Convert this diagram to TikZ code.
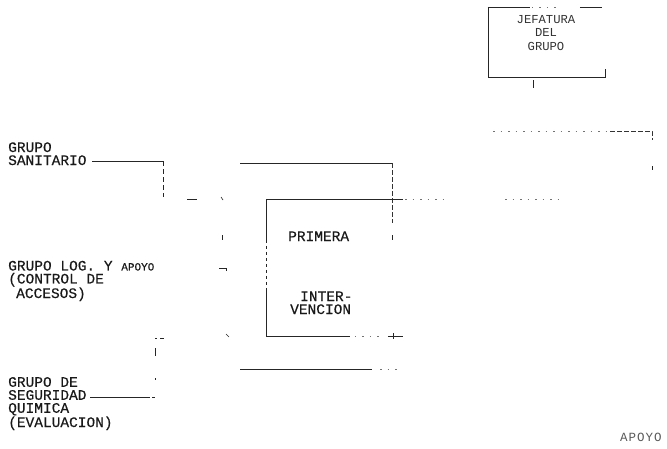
\documentclass[tikz,border=0pt]{standalone}
\usepackage{fontspec}
\setmonofont[FakeBold=0.4]{Liberation Mono}
\newfontfamily\typelight{Liberation Mono}
\usetikzlibrary{calc}
\begin{document}
\begin{tikzpicture}[x=1pt,y=-1pt,
  lbl/.style={font=\ttfamily\fontsize{14.5}{13}\selectfont, text=black!90, inner sep=0pt, align=left, anchor=base west},
  jlbl/.style={font=\typelight\fontsize{12.2}{13.5}\selectfont, text=black!80, inner sep=0pt, align=center, anchor=base},
  ln/.style={line width=0.6pt, draw=black!85},
  dsh/.style={line width=0.6pt, draw=black!80, dash pattern=on 5pt off 2pt},
  vfnt/.style={line width=0.5pt, draw=black!55, dash pattern=on 1.5pt off 6pt},
]
\useasboundingbox (0,0) rectangle (667,448);
% ---------- boxes (invisible nodes, outlines drawn as scanned)
\node[minimum width=117pt, minimum height=70pt, inner sep=0pt] (jef) at (546.5,42) {};
\node[minimum width=137pt, minimum height=137pt, inner sep=0pt] (prim) at (334.5,267.5) {};
% ---------- texts (base anchor = baseline of last line)
\node[jlbl] (jeft) at (546,50) {JEFATURA\\DEL\\GRUPO};
\node[lbl] (san) at (8,165) {GRUPO\\SANITARIO};
\node[lbl] (log) at (8,298) {GRUPO LOG. Y {\fontsize{11}{13}\selectfont APOYO}\\(CONTROL DE\\\hspace*{8pt}ACCESOS)};
\node[lbl] (seg) at (8,427) {GRUPO DE\\SEGURIDAD\\QUIMICA\\(EVALUACION)};
\node[lbl] (pt1) at (288,241) {PRIMERA};
\node[lbl] (pt2) at (290,314) {\hspace*{10pt}INTER-\\VENCION};
\node[lbl, font=\typelight\fontsize{12.5}{13}\selectfont, text=black!65] (apo) at (620,441) {A\kern1pt P\kern1pt O\kern1pt Y\kern1pt O};
% ---------- named coordinates
\coordinate (jefdrop) at (533,88);
\coordinate (sanend) at (92,161);
\coordinate (sanc) at (163,161);
\coordinate (segend) at (90,397);
\coordinate (segc) at (155,397);
\coordinate (otl) at (240,163);
\coordinate (otr) at (392,163);
\coordinate (obl) at (240,369);
\coordinate (obr) at (400,369);
\coordinate (trl) at (493,131);
\coordinate (trr) at (652,131);
% ---------- Jefatura outline
\draw[ln] (jef.north west) -- ++(42,0);
\draw[vfnt] ($(jef.north west)+(44,0)$) -- ++(30,0);
\draw[ln] ($(jef.north west)+(92,0)$) -- ++(22,0);
\draw[ln] (jef.north west) -- (jef.south west) -- (jef.south east) -- ++(0,-8);
\draw[ln] (jef.south -| jefdrop) ++(0,3) -- (jefdrop);
% ---------- top right connector
\draw[vfnt] (trl) -- (610,131);
\draw[dsh] (610,131) -- (trr) -- ++(0,9);
\draw[ln] ($(trr)+(0,35)$) -- ++(0,4);
\draw[vfnt] (prim.north east) ++(2,0) -- ++(42,0);
\draw[vfnt] (505,199) -- (560,199);
% ---------- outer frame
\draw[ln] (otl) -- (otr);
\draw[dsh] (otr) -- (392,223);
\draw[ln] (392,235) -- (392,240);
\draw[ln] (obl) -- (372,369);
\draw[vfnt] (380,369) -- (obr);
% ---------- PRIMERA INTERVENCION box
\draw[ln] (prim.north east) -- (prim.north west) -- ++(0,41);
\draw[ln, dash pattern=on 3pt off 3pt] ($(prim.north west)+(0,41)$) -- ++(0,50);
\draw[ln] ($(prim.north west)+(0,91)$) -- (prim.south west) -- ++(84,0);
\draw[vfnt] ($(prim.south west)+(89,0)$) -- ++(24,0);
\draw[ln] ($(prim.south west)+(122,0)$) -- (prim.south east);
\draw[ln] ($(prim.south west)+(127,-3)$) -- ++(0,6);
% ---------- SANITARIO connector
\draw[ln] (sanend) -- (sanc);
\draw[ln, dash pattern=on 5pt off 3pt] (sanc) -- (163,197);
\draw[ln] (187,199) -- (197,199);
\draw[ln] (221,197) -- (223,200);
\draw[ln] (222,235) -- (222,240);
% ---------- LOG connector mark
\draw[ln] (219,268) -- (226,268) -- (226,271);
% ---------- SEGURIDAD connector
\draw[ln] (segend) -- (150,397);
\draw[ln] (152,397) -- (segc);
\draw[ln] (155,378) -- (155,379.5);
\draw[ln] (155,348) -- (155,356);
\draw[ln] (155,338) -- (157,338);
\draw[ln] (160,338) -- (164,338);
\draw[ln] (226,334) -- (229,337);
\end{tikzpicture}
\end{document}
